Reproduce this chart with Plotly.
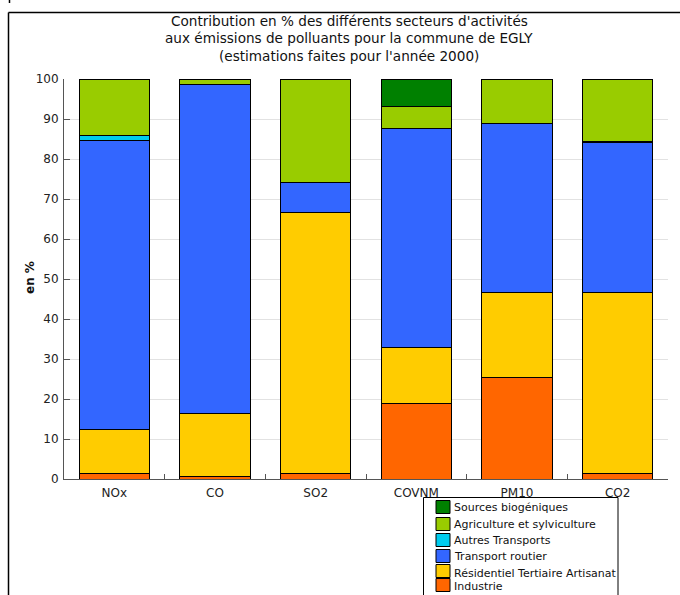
import plotly.graph_objects as go

# Polluants (catégories) et contributions par secteur, en %
polluants = ["NOx", "CO", "SO2", "COVNM", "PM10", "CO2"]

industrie = [1.5, 0.7, 1.5, 19.0, 25.4, 1.5]
residentiel = [11.0, 15.8, 65.2, 13.8, 21.2, 45.1]
transport_routier = [72.1, 82.2, 7.4, 54.8, 42.4, 37.5]
autres_transports = [1.2, None, None, None, None, 0.3]
agriculture = [14.2, 1.3, 25.9, 5.6, 11.0, 15.6]
biogeniques = [None, None, None, 6.8, None, None]

secteurs = [
    ("Industrie", industrie, "#FF6600"),
    ("Résidentiel Tertiaire Artisanat", residentiel, "#FFCC00"),
    ("Transport routier", transport_routier, "#3366FF"),
    ("Autres Transports", autres_transports, "#00CCEE"),
    ("Agriculture et sylviculture", agriculture, "#99CC00"),
    ("Sources biogéniques", biogeniques, "#008000"),
]

titre = [
    "Contribution en % des différents secteurs d'activités",
    "aux émissions de polluants pour la commune de EGLY",
    "(estimations faites pour l'année 2000)",
]

FONT = "DejaVu Sans"
W, H = 680, 595
ML, MR, MT, MB = 64, 12, 79, 116
PW, PH = W - ML - MR, H - MT - MB


def px(x):
    return (x - ML) / PW


def py(y):
    return (H - MB - y) / PH


fig = go.Figure()
for nom, vals, couleur in secteurs:
    fig.add_trace(go.Bar(
        x=polluants, y=vals, name=nom,
        marker=dict(color=couleur, line=dict(color="black", width=1)),
        showlegend=False,
    ))

shapes = []
annotations = []

# Titre, une annotation par ligne
for i, ligne in enumerate(titre):
    annotations.append(dict(
        text=ligne, x=px(349), y=py(21 + i * 17.5), xref="paper", yref="paper",
        xanchor="center", yanchor="middle", showarrow=False,
        font=dict(family=FONT, size=13.6, color="#111"),
    ))

# Titre de l'axe vertical
annotations.append(dict(
    text="<b>en %</b>", x=px(30), y=py(278), xref="paper", yref="paper",
    xanchor="center", yanchor="middle", showarrow=False, textangle=-90,
    font=dict(family=FONT, size=12, color="#111"),
))

# Cadre extérieur
shapes.append(dict(type="line", xref="paper", yref="paper",
                   x0=px(8.5), x1=px(700), y0=py(12.5), y1=py(12.5),
                   line=dict(color="black", width=1.5)))
shapes.append(dict(type="line", xref="paper", yref="paper",
                   x0=px(8.5), x1=px(8.5), y0=py(12.5), y1=py(620),
                   line=dict(color="black", width=1.5)))
shapes.append(dict(type="line", xref="paper", yref="paper",
                   x0=px(9.5), x1=px(9.5), y0=py(-2), y1=py(3),
                   line=dict(color="black", width=1.5)))

# Légende
shapes.append(dict(type="rect", xref="paper", yref="paper",
                   x0=px(423.5), x1=px(618), y0=py(497.5), y1=py(620),
                   line=dict(color="black", width=1), fillcolor="white"))
rangs_carre = [507, 524, 540, 556, 571, 585]
rangs_texte = [507, 524, 540, 556, 573, 586]
for k, (nom, vals, couleur) in enumerate(reversed(secteurs)):
    yc = rangs_carre[k]
    shapes.append(dict(type="rect", xref="paper", yref="paper",
                       x0=px(436), x1=px(450), y0=py(yc - 6.5), y1=py(yc + 6.5),
                       line=dict(color="black", width=1), fillcolor=couleur))
    annotations.append(dict(
        text=nom, x=px(452), y=py(rangs_texte[k]), xref="paper", yref="paper",
        xanchor="left", yanchor="middle", showarrow=False,
        font=dict(family=FONT, size=11, color="#111"),
    ))

fig.update_layout(
    width=W, height=H, autosize=False,
    margin=dict(l=ML, r=MR, t=MT, b=MB, pad=0),
    barmode="stack", bargap=0.3,
    paper_bgcolor="white", plot_bgcolor="white",
    font=dict(family=FONT, size=12, color="#222"),
    showlegend=False,
    shapes=shapes, annotations=annotations,
    xaxis=dict(
        range=[-0.5, 5.5], showgrid=False, showline=True, linecolor="#555",
        linewidth=1, ticks="inside", tickson="boundaries", ticklen=5,
        tickcolor="#555", tickfont=dict(family=FONT, size=12, color="#222"),
        ticklabelstandoff=3, fixedrange=True,
    ),
    yaxis=dict(
        range=[0, 100], dtick=10, showgrid=True, gridcolor="#E2E2E2",
        showline=True, linecolor="#555", linewidth=1, ticks="inside",
        ticklen=6, tickcolor="#555", zeroline=False,
        tickfont=dict(family=FONT, size=12, color="#222"),
        ticklabelstandoff=2, fixedrange=True,
    ),
)

fig.write_html("out.html")
